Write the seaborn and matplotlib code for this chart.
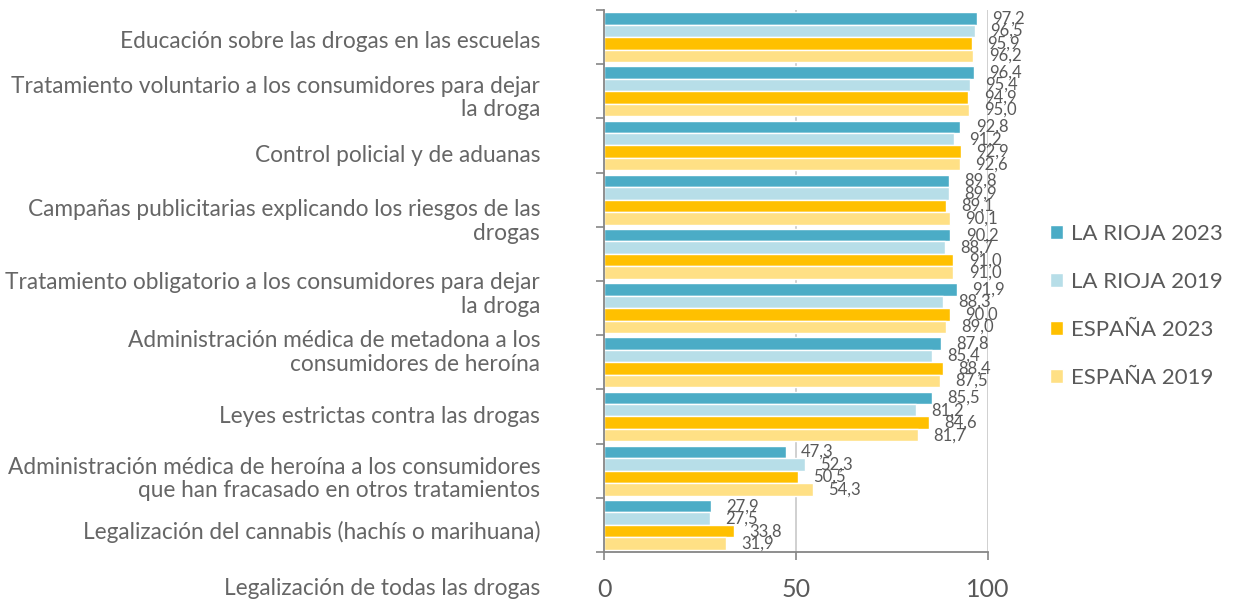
import numpy as np
import pandas as pd
import matplotlib
matplotlib.use("Agg")
import matplotlib.pyplot as plt
import seaborn as sns

categories = [
    "Educación sobre las drogas en las escuelas",
    "Tratamiento voluntario a los consumidores para dejar\nla droga",
    "Control policial y de aduanas",
    "Campañas publicitarias explicando los riesgos de las\ndrogas",
    "Tratamiento obligatorio a los consumidores para dejar\nla droga",
    "Administración médica de metadona a los\nconsumidores de heroína",
    "Leyes estrictas contra las drogas",
    "Administración médica de heroína a los consumidores\nque han fracasado en otros tratamientos",
    "Legalización del cannabis (hachís o marihuana)",
    "Legalización de todas las drogas",
]
series = ["LA RIOJA 2023", "LA RIOJA 2019", "ESPAÑA 2023", "ESPAÑA 2019"]
rioja_2023 = [97.2, 96.4, 92.8, 89.8, 90.2, 91.9, 87.8, 85.5, 47.3, 27.9]
rioja_2019 = [96.5, 95.4, 91.2, 89.9, 88.7, 88.3, 85.4, 81.2, 52.3, 27.5]
espana_2023 = [95.9, 94.9, 92.9, 89.1, 91.0, 90.0, 88.4, 84.6, 50.5, 33.8]
espana_2019 = [96.2, 95.0, 92.6, 90.1, 91.0, 89.0, 87.5, 81.7, 54.3, 31.9]
x_ticks = [0, 50, 100]

# layout (label vertical placement, as in the original Excel rendering)
label_pos = [0.09, 1.12, 2.18, 3.40, 4.75, 5.82, 7.00, 8.15, 9.13, 10.18]
colors = ["#4BACC6", "#B7DEE8", "#FFC000", "#FFE085"]
text_gray = "#595959"

sns.set_style("white")
plt.rcParams["font.family"] = ["Lato", "DejaVu Sans"]

all_vals = [rioja_2023, rioja_2019, espana_2023, espana_2019]
rows = []
for s, vals in zip(series, all_vals):
    for c, v in zip(categories, vals):
        rows.append((c, s, v))
df = pd.DataFrame(rows, columns=["cat", "serie", "value"])

fig = plt.figure(figsize=(12.34, 6.04), dpi=100)
ax = fig.add_axes([604 / 1234, 1 - 552 / 604, 384 / 1234, 542 / 604])

sns.barplot(data=df, y="cat", x="value", hue="serie", order=categories,
            hue_order=series, palette=colors, orient="h", width=0.92,
            saturation=1, ax=ax, legend=True)

for cont, vals in zip(ax.containers, all_vals):
    ax.bar_label(cont, labels=[f"{v:.1f}".replace(".", ",") for v in vals],
                 padding=11, fontsize=12, color=text_gray)

handles, labels = ax.get_legend_handles_labels()
ax.get_legend().remove()

ax.set_xlim(0, 100)
ax.set_ylim(9.5, -0.5)
ax.set_xticks(x_ticks)
ax.set_yticks(np.arange(-0.5, 10, 1))
ax.set_yticklabels([])
ax.set_xlabel("")
ax.set_ylabel("")
ax.tick_params(axis="x", length=6, width=1.2, pad=13, labelsize=18,
               color="#868686", labelcolor=text_gray, bottom=True)
ax.tick_params(axis="y", length=6, width=1.2, color="#868686", left=True)
ax.grid(axis="x", color="#d0d0d0", lw=1.4)
ax.grid(axis="y", visible=False)
ax.set_axisbelow(True)
for sp in ["top", "right"]:
    ax.spines[sp].set_visible(False)
for sp in ["left", "bottom"]:
    ax.spines[sp].set_color("#868686")
    ax.spines[sp].set_linewidth(1.3)

for cat, pos in zip(categories, label_pos):
    ax.annotate(cat, xy=(0, pos), xycoords=("axes fraction", "data"),
                xytext=(-46, 0), textcoords="offset points", ha="right",
                va="center", multialignment="right", fontsize=16.3,
                color="#666666", annotation_clip=False, linespacing=1.15)

fig.legend(handles, labels, loc="center left",
           bbox_to_anchor=(1030 / 1234, 1 - 306 / 604), frameon=False,
           fontsize=16, handlelength=0.6, handleheight=0.6,
           handletextpad=0.35, labelspacing=1.26, labelcolor=text_gray)

fig.savefig("out.png", dpi=100)
